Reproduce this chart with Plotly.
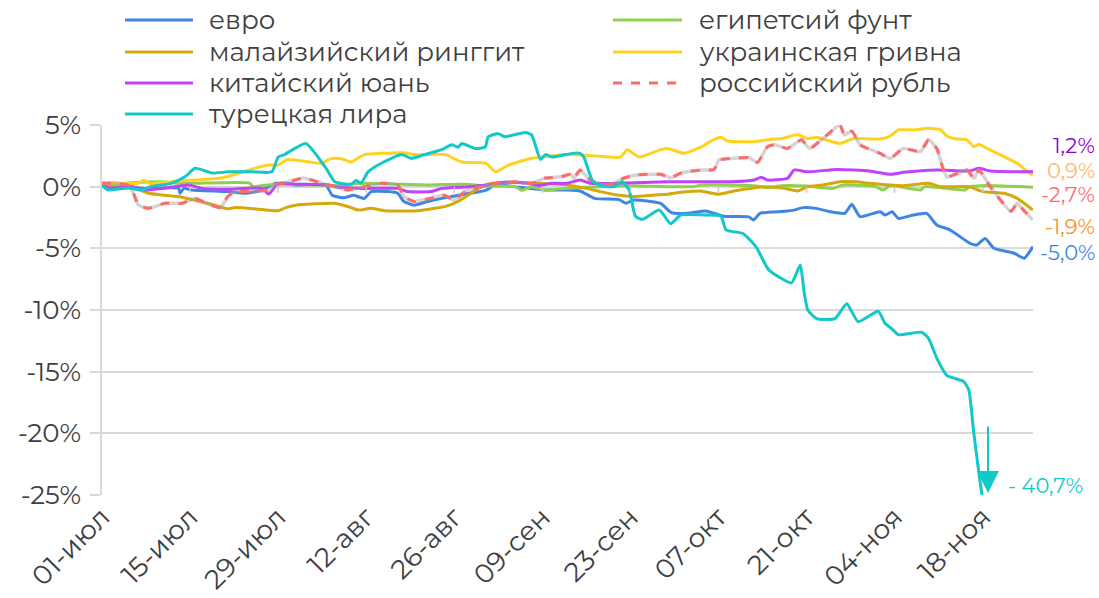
import pandas as pd
import plotly.graph_objects as go

START = pd.Timestamp("2021-07-01")

# ---- data: day offsets since 01-Jul and % change ----
names = ["евро", "египетсий фунт", "малайзийский ринггит", "украинская гривна",
         "китайский юань", "российский рубль", "турецкая лира"]
colors = ["#3F86E4", "#8FD14F", "#D4A90C", "#FFD21F", "#C042FA", "#FF6B6B", "#12C8C8"]

eur_d = [0, 4.2, 6.9, 12.2, 12.4, 13, 14.3, 20, 22.8, 25.5, 27.6, 30.8, 35.6, 36.6, 38.5, 40, 41.7, 42.8, 45.5, 47, 48,
         49.6, 51.8, 54, 57.7, 61, 62.5, 65.7, 70.5, 73.9, 76, 78.3, 82.2, 83.3, 84.5, 88.8, 90.5, 93.1, 96, 98.8, 102.8,
         103.6, 104.6, 108.5, 110, 111.4, 113.5, 115.7, 118.1, 119.2, 120.5, 123.7, 124.5, 125.6, 126.6, 129, 131.1,
         132.7, 134.8, 138, 139, 140.4, 141.8, 145, 146.6, 148]
eur_v = [0.1, 0, -0.14, -0.14, -0.54, -0.14, -0.27, -0.4, -0.54, -0.27, 0.27, 0.14, 0.14, -0.7, -0.9, -0.7, -0.95, -0.4,
         -0.4, -0.54, -1.2, -1.5, -1.2, -0.95, -0.6, -0.3, 0.14, 0, -0.27, -0.27, -0.35, -0.95, -1.05, -1.35, -1.08,
         -1.35, -2.1, -2.16, -1.97, -2.4, -2.45, -2.7, -2.16, -2.0, -1.9, -1.7, -1.76, -2.03, -2.16, -1.43, -2.43,
         -2.03, -2.3, -2.03, -2.57, -2.3, -2.16, -3.1, -3.5, -4.6, -4.73, -4.2, -5.0, -5.4, -5.8, -4.86]

egp_d = [0, 4.2, 9.5, 12, 14.8, 23.4, 24, 25.5, 28, 37, 42, 47, 51.8, 57.7, 61, 65.7, 66.7, 68.3, 70.5, 74.7, 79.2, 84,
         90, 94.1, 95.2, 103.7, 105.8, 108, 112, 116.2, 117.8, 123, 124.2, 125.3, 130.1, 130.8, 137.1, 138, 140.7, 148]
egp_v = [0.1, 0.3, 0.4, 0.27, 0.27, 0.3, 0, 0.1, 0.2, 0.1, 0.27, 0.2, 0.14, 0.2, 0.05, 0, -0.3, 0, -0.27, -0.1, 0, 0.08,
         0, 0, 0.14, 0.08, -0.08, 0.08, 0.05, -0.14, 0.14, 0, -0.27, 0.08, -0.27, 0, -0.27, 0, 0.1, -0.05]

myr_d = [0, 4.2, 7.4, 12, 14.8, 18.6, 20, 21, 25.5, 28, 29.2, 30.8, 37, 39.6, 40.7, 42.8, 44.9, 50.2, 54.6, 56.6, 58.2,
         59.8, 61.4, 64, 68.3, 73.9, 77, 79.2, 81.9, 84.5, 87.8, 89.9, 92, 95.2, 97.9, 100.5, 105.8, 108.5, 110.6, 112.2,
         114.6, 117.3, 120, 122, 127.4, 131.4, 133.3, 137.9, 140, 143.4, 145.5, 148]
myr_v = [0.1, 0.1, -0.54, -0.8, -1.1, -1.6, -1.8, -1.7, -1.85, -1.95, -1.7, -1.5, -1.35, -1.7, -1.9, -1.75, -1.95, -1.95,
         -1.6, -1.2, -0.7, -0.14, 0.2, 0.35, 0.3, 0.14, -0.14, -0.4, -0.68, -0.8, -0.68, -0.62, -0.46, -0.35, -0.62,
         -0.35, 0, -0.14, -0.35, 0.0, 0.14, 0.4, 0.4, 0.27, 0.08, 0.27, 0, 0, -0.4, -0.54, -0.95, -1.9]

uah_d = [0, 2, 5.8, 6.6, 7.4, 11, 14.8, 19, 21.8, 24.4, 26.5, 28, 29.5, 33, 35, 36, 37, 38.5, 39.5, 41.7, 44.4, 48, 49.7,
         54.6, 57.2, 61, 62.6, 64.6, 68.3, 73.9, 78.2, 82.4, 83.5, 85.4, 88.8, 89.9, 92.5, 95.2, 96.8, 98.4, 99.5, 103.7,
         105.8, 108, 110.6, 112.2, 113.6, 117.3, 119.4, 123.7, 125.3, 126.6, 129, 131.4, 133.3, 134.3, 135.4, 137.5,
         138.6, 139.4, 140.7, 143.4, 145.5, 146.8, 148]
uah_v = [0.27, 0.3, 0.27, 0.54, 0.27, 0.4, 0.54, 0.7, 1.1, 1.5, 1.75, 1.75, 2.2, 2.0, 1.9, 2.2, 2.3, 2.2, 2.0, 2.6, 2.7,
         2.75, 2.6, 2.6, 2.0, 1.9, 1.2, 1.75, 2.3, 2.6, 2.5, 2.4, 3.0, 2.4, 3.0, 3.1, 2.7, 3.2, 3.7, 4.0, 3.7, 3.65, 3.8,
         3.9, 4.2, 3.9, 4.0, 3.5, 3.9, 3.86, 4.1, 4.6, 4.6, 4.73, 4.6, 4.1, 3.9, 3.8, 3.24, 3.43, 3.1, 2.43, 1.9, 1.35,
         0.9]

cny_d = [0, 1.5, 4.7, 6.9, 9.5, 13.8, 15.9, 20, 25.5, 26.5, 28, 30.8, 36, 37, 41.7, 47, 48.6, 52.3, 54, 58.6, 61.9, 64,
         67.3, 69.4, 71.5, 73.9, 76, 77.6, 82, 90, 100, 103.7, 104.8, 105.8, 109, 110, 112.2, 116.8, 122, 125.3, 127.4,
         132.7, 137.9, 139.4, 141.2, 148]
cny_v = [0.1, -0.14, 0, -0.27, -0.14, 0.14, -0.14, -0.2, -0.14, -0.6, 0.27, 0.2, 0.14, 0, -0.14, -0.14, -0.4, -0.4,
         -0.14, 0, 0.2, 0.35, 0.3, 0.1, 0.27, 0.27, 0.54, 0.27, 0.27, 0.4, 0.4, 0.54, 0.76, 0.54, 0.68, 1.35, 1.2, 1.4,
         1.27, 1.0, 1.16, 1.35, 1.27, 1.49, 1.27, 1.2]

rub_d = [0, 2, 4.2, 5, 5.8, 7.4, 10, 12.7, 14.8, 16.4, 18.8, 20, 21.2, 22.8, 26.5, 27.6, 29.7, 32, 35, 37, 39, 41.7, 44.4,
         47, 48, 49.6, 52.2, 54.4, 56, 57.7, 60.3, 63, 65.7, 68.3, 70.5, 73, 74.5, 75, 76, 77.6, 79.8, 81.3, 82.9, 85,
         88.8, 90.4, 92, 95.2, 97.3, 98.1, 100.5, 102.9, 104.2, 105.8, 106.9, 109, 111.2, 112.5, 114.6, 117.3, 118,
         119.2, 120.5, 123.7, 125.3, 127.4, 130.1, 131.4, 132.7, 134.3, 137.5, 138.6, 139.4, 141.2, 144.5, 145.5, 146.5,
         148]
rub_v = [0.27, 0.27, 0.1, -0.54, -1.5, -1.75, -1.35, -1.35, -0.95, -1.3, -1.7, -0.8, -0.4, -0.4, -0.27, 0.14, 0.4, 0.7,
         0.27, 0, -0.27, 0, 0.27, 0.14, -0.8, -1.2, -0.95, -0.7, -1.1, -0.4, 0, 0.27, 0.4, 0.27, 0.7, 0.8, 1.0, 0.68,
         1.35, 0.54, 0.14, 0.27, 0.68, 0.95, 1.0, 0.73, 1.1, 1.35, 1.4, 2.16, 2.3, 2.35, 1.97, 3.24, 3.4, 3.1, 3.8, 3.1,
         3.9, 5.0, 4.2, 4.5, 3.4, 2.7, 2.3, 3.1, 2.84, 3.8, 3.1, 0.8, 1.35, 0.68, 1.35, 0, -2.0, -1.35, -1.9, -2.7]

try_d = [0, 1, 4.2, 6.3, 7.7, 11, 13.2, 14.8, 17.5, 20, 24, 27, 28, 29, 32.4, 35.6, 37, 39.6, 40.4, 41.2, 42.3, 44.4,
         47.6, 49.2, 51.3, 54, 55.6, 56.6, 57.2, 59.3, 60.9, 61.4, 63, 64, 67.3, 68.3, 69.7, 70.5, 71.6, 74.7, 76, 76.6,
         78, 79.2, 81.4, 82.7, 83.8, 84.8, 85.9, 88.6, 90.4, 92, 96, 98.4, 99.2, 101.9, 104, 106, 109.6, 111, 111.6, 112.2,
         113.6, 116.5, 118.4, 120.2, 123.4, 124.5, 125.5, 126.6, 130.3, 131.4, 132.7, 134.3, 137, 137.8, 138.6, 139.9,
         142, 145, 148]
try_v = [0.1, -0.27, -0.1, -0.27, 0, 0.27, 0.8, 1.5, 1.1, 1.2, 1.2, 1.2, 2.4, 2.6, 3.5, 1.5, 0.4, 0.2, 0.5, 0.3, 1.2,
         1.9, 2.6, 2.3, 2.6, 3.0, 3.4, 3.2, 3.5, 3.1, 3.2, 4.05, 4.3, 4.05, 4.4, 4.2, 2.2, 2.6, 2.4, 2.7, 2.7, 2.4, 0.45,
         0.1, 0, 0.4, -0.27, -2.4, -2.65, -1.9, -3.0, -2.3, -2.3, -2.4, -3.5, -3.8, -4.9, -6.75, -7.8, -6.35, -8.5,
         -10.0, -10.7, -10.7, -9.5, -10.95, -10.1, -11.1, -11.5, -12.0, -11.8, -12.3, -13.9, -15.3, -15.8, -16.5, -20,
         -25, -30, -36, -40.7]

series_days = [eur_d, egp_d, myr_d, uah_d, cny_d, rub_d, try_d]
series_vals = [eur_v, egp_v, myr_v, uah_v, cny_v, rub_v, try_v]

tick_dates = ["2021-07-01", "2021-07-15", "2021-07-29", "2021-08-12", "2021-08-26", "2021-09-09",
              "2021-09-23", "2021-10-07", "2021-10-21", "2021-11-04", "2021-11-18"]
tick_labels = ["01-июл", "15-июл", "29-июл", "12-авг", "26-авг", "09-сен", "23-сен", "07-окт", "21-окт",
               "04-ноя", "18-ноя"]
y_ticks = [5, 0, -5, -10, -15, -20, -25]
y_labels = ["5%", "0%", "-5%", "-10%", "-15%", "-20%", "-25%"]

end_labels = ["1,2%", "0,9%", "-2,7%", "-1,9%", "-5,0%"]
end_colors = ["#8A00D4", "#FFB870", "#FF6B6B", "#F7931E", "#3F86E4"]
try_final = "- 40,7%"

FONT = "Montserrat, 'Noto Sans', sans-serif"
TXT = "#404040"

W, H = 1099, 598
L, R, T, B = 102, 66, 125, 103
PW, PH = W - L - R, H - T - B


def px(x):
    return (x - L) / PW


def py(y):
    return (H - B - y) / PH


def to_dates(days):
    return [START + pd.Timedelta(days=d) for d in days]


fig = go.Figure()

for i, (nm, col, dd, vv) in enumerate(zip(names, colors, series_days, series_vals)):
    xs = to_dates(dd)
    if nm == "российский рубль":
        fig.add_trace(go.Scatter(x=xs, y=vv, mode="lines", showlegend=False, hoverinfo="skip",
                                 line=dict(color="rgba(160,160,160,0.45)", width=3.5, shape="spline", smoothing=0.5)))
        fig.add_trace(go.Scatter(x=xs, y=vv, mode="lines", name=nm, showlegend=False,
                                 line=dict(color=col, width=3, dash="dash", shape="spline", smoothing=0.5)))
    else:
        fig.add_trace(go.Scatter(x=xs, y=vv, mode="lines", name=nm, showlegend=False,
                                 line=dict(color=col, width=3, shape="spline", smoothing=0.5)))

# manual legend (two columns, row-major)
rows_y = [20, 52, 83, 114]
for i, (nm, col) in enumerate(zip(names, colors)):
    r, c = i // 2, i % 2
    x0, x1, xt = (125, 193, 207) if c == 0 else (613, 682, 697)
    yy = py(rows_y[r])
    fig.add_shape(type="line", xref="paper", yref="paper", x0=px(x0), x1=px(x1), y0=yy, y1=yy,
                  line=dict(color=col, width=3, dash="dash" if nm == "российский рубль" else "solid"))
    fig.add_annotation(xref="paper", yref="paper", x=px(xt), y=yy, text=nm, showarrow=False,
                       xanchor="left", yanchor="middle", font=dict(family=FONT, size=26, color=TXT))

# small tick marks on zero line
for d in tick_dates[1:]:
    fig.add_shape(type="line", xref="x", yref="y", x0=d, x1=d, y0=0, y1=-0.5,
                  line=dict(color="#c8c8c8", width=1.5))

# end labels
label_y = [145, 171, 194, 226, 252]
for t, c, yy in zip(end_labels, end_colors, label_y):
    fig.add_annotation(xref="paper", yref="paper", x=px(1097), y=py(yy), text=t, showarrow=False,
                       xanchor="right", yanchor="middle", font=dict(family=FONT, size=21, color=c))

# arrow and final Turkish lira value
fig.add_annotation(xref="paper", yref="paper", x=px(988), y=py(493), ax=0, ay=-68, text="",
                   showarrow=True, arrowhead=2, arrowsize=2.2, arrowwidth=2, arrowcolor="#12C8C8")
fig.add_annotation(xref="paper", yref="paper", x=px(1006), y=py(485), text=try_final, showarrow=False,
                   xanchor="left", yanchor="middle", font=dict(family=FONT, size=21, color="#12C8C8"))

fig.update_layout(
    width=W, height=H, margin=dict(l=L, r=R, t=T, b=B, pad=0, autoexpand=False),
    plot_bgcolor="white", paper_bgcolor="white", showlegend=False,
    font=dict(family=FONT, color=TXT),
    xaxis=dict(range=[START, START + pd.Timedelta(days=148)], tickvals=tick_dates, ticktext=tick_labels,
               tickangle=-45, tickfont=dict(size=27, color=TXT), showgrid=False, zeroline=False,
               showline=False, ticks="", automargin=False),
    yaxis=dict(range=[-25, 5], tickvals=y_ticks, ticktext=y_labels, tickfont=dict(size=26, color=TXT),
               showgrid=True, gridcolor="#d9d9d9", gridwidth=1.5, zeroline=False, showline=True,
               linecolor="#d9d9d9", linewidth=1.5, ticks="outside", ticklen=10, tickcolor="#d9d9d9",
               tickwidth=1.5, ticklabelstandoff=4, automargin=False),
)

fig.write_html("out.html", config={"displayModeBar": False},
               post_script="document.body.style.margin='0';")
